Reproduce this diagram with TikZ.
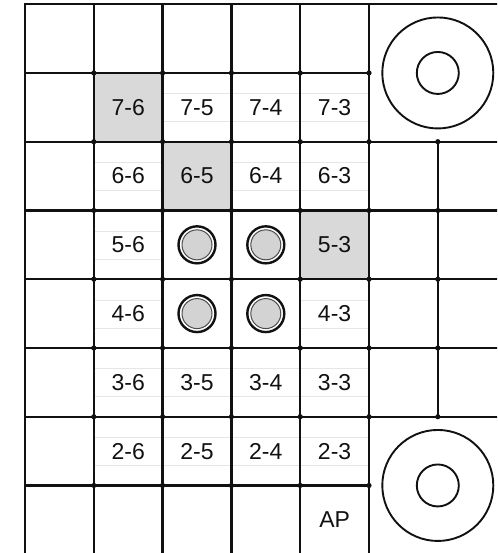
\documentclass[tikz,border=0pt]{standalone}
\usepackage{fontspec}
\setsansfont{Liberation Sans}
\usetikzlibrary{positioning}
\definecolor{brdink}{HTML}{111111}
\definecolor{brdgrayfill}{HTML}{D9D9D9}
\definecolor{brdholefill}{HTML}{D3D3D3}
\definecolor{brdrulecol}{HTML}{E6E6E6}
\tikzset{
  brd/.style={x=68.8pt, y=-68.75pt},
  brdline/.style={draw=brdink, line width=2.4pt},
  brdlbl/.style={font=\sffamily\fontsize{23}{23}\selectfont, text=brdink, inner sep=0pt},
  brdrule/.style={draw=brdrulecol, line width=0.8pt},
  brddot/.style={fill=brdink},
  brdpin/.style={draw=brdink, line width=2.4pt},
  brdpincore/.style={draw=brdink!75, fill=brdholefill, line width=1pt},
  brdring/.style={draw=brdink, line width=1.9pt},
}

\begin{document}
\begin{tikzpicture}[brd]
  \useasboundingbox (-0.3634,-0.0611) rectangle (6.8605,7.9825);
  \clip (-0.3634,-0.0611) rectangle (6.8605,7.9825);
  % faint rules behind the labels
  \foreach \r in {1,2,5,6}
    \foreach \c in {1,...,4} {
      \draw[brdrule] (\c,\r+0.304) -- ++(1,0);
      \draw[brdrule] (\c,\r+0.711) -- ++(1,0);
    }
  \foreach \r/\c in {3/1, 3/4, 4/1, 4/4} {
    \draw[brdrule] (\c,\r+0.304) -- ++(1,0);
    \draw[brdrule] (\c,\r+0.711) -- ++(1,0);
  }
  % shaded cells
  \foreach \c/\r in {1/1, 2/2, 4/3}
    \fill[brdgrayfill] (\c,\r) rectangle ++(1,1);
  % cell labels
  \foreach \r/\n in {1/7, 2/6, 5/3, 6/2}
    \foreach \c/\m in {1/6, 2/5, 3/4, 4/3}
      \node[brdlbl] (l\n\m) at (\c+0.5,\r+0.5) {\n-\m};
  \foreach \r/\n in {3/5, 4/4}
    \foreach \c/\m in {1/6, 4/3}
      \node[brdlbl] (l\n\m) at (\c+0.5,\r+0.5) {\n-\m};
  \node[brdlbl] (ap) at (4.5,7.5) {AP};
  % pins
  \foreach \c/\r in {2/3, 3/3, 2/4, 3/4} {
    \draw[brdpin] (\c+0.5,\r+0.5) circle[radius=18.5pt];
    \draw[brdpincore] (\c+0.5,\r+0.5) circle[radius=15pt];
  }
  % grid
  \draw[brdline] (0,8) -- (0,0) -- (7,0);
  \foreach \c in {1,...,5}
    \draw[brdline] (\c,0) -- (\c,8);
  \draw[brdline] (6,2) -- (6,6);
  \foreach \r in {1,7}
    \draw[brdline] (0,\r) -- (5,\r);
  \foreach \r in {2,...,6}
    \draw[brdline] (0,\r) -- (7,\r);
  \draw[brdline] (0,8) -- (7,8);
  % junction dots
  \foreach \c in {1,...,5}
    \foreach \r in {1,...,7}
      \fill[brddot] (\c,\r) circle[radius=2.6pt];
  \foreach \r in {2,...,6}
    \fill[brddot] (6,\r) circle[radius=2.6pt];
  % big rings
  \foreach \r in {1,7} {
    \draw[brdring] (6,\r) circle[radius=55.5pt];
    \draw[brdring] (6,\r) circle[radius=21pt];
  }
\end{tikzpicture}
\end{document}
